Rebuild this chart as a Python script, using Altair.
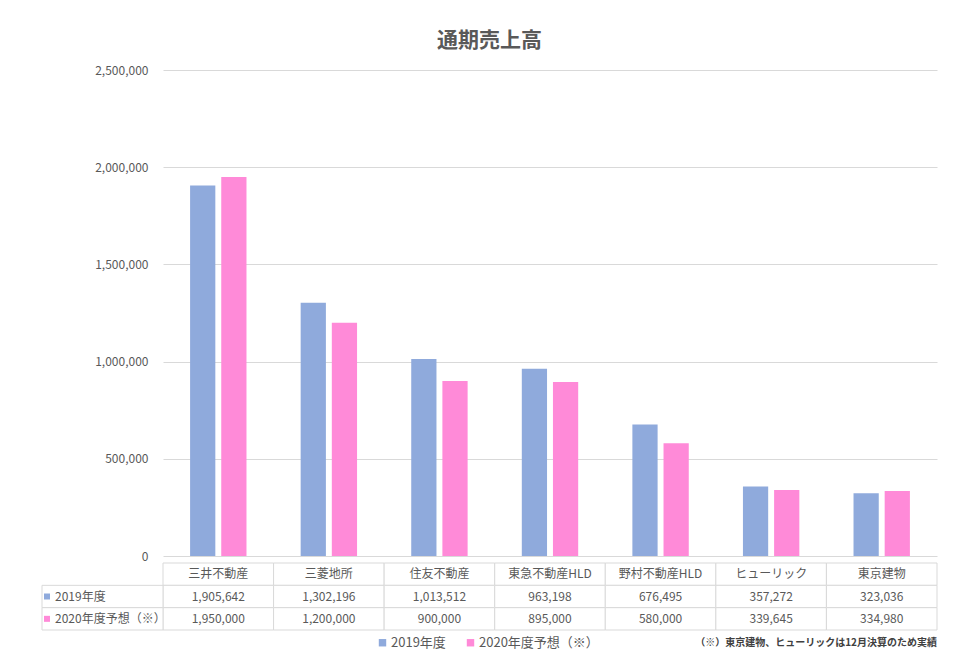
import altair as alt
import pandas as pd

# ---- data ----
categories = ["三井不動産", "三菱地所", "住友不動産", "東急不動産HLD", "野村不動産HLD", "ヒューリック", "東京建物"]
series = ["2019年度", "2020年度予想（※）"]
sales_2019 = [1905642, 1302196, 1013512, 963198, 676495, 357272, 323036]
sales_2020 = [1950000, 1200000, 900000, 895000, 580000, 339645, 334980]
y_ticks = [0, 500000, 1000000, 1500000, 2000000, 2500000]
title_text = "通期売上高"
note_text = "（※）東京建物、ヒューリックは12月決算のため実績"
header_row = "企業"

# ---- styles ----
FONT = "Noto Sans CJK JP"
colors = ["#8FAADC", "#FF8AD8"]
GRID = "#D9D9D9"
TXT = "#595959"

bar_rows = []
for c, a, b in zip(categories, sales_2019, sales_2020):
    bar_rows.append({"company": c, "series": series[0], "value": a})
    bar_rows.append({"company": c, "series": series[1], "value": b})
bars_df = pd.DataFrame(bar_rows)

table_rows_order = [header_row] + series
cells = []
for c, a, b in zip(categories, sales_2019, sales_2020):
    cells.append({"company": c, "row": header_row, "label": c})
    cells.append({"company": c, "row": series[0], "label": f"{a:,}"})
    cells.append({"company": c, "row": series[1], "label": f"{b:,}"})
cells_df = pd.DataFrame(cells)
left_df = pd.DataFrame({"row": series})
note_df = pd.DataFrame({"note": [note_text]})

x_bar = alt.X("company:N", sort=categories,
              scale=alt.Scale(domain=categories, paddingInner=0.49, paddingOuter=0.245),
              axis=None)
bars = alt.Chart(bars_df).mark_bar().encode(
    x=x_bar,
    xOffset=alt.XOffset("series:N", scale=alt.Scale(domain=series, paddingInner=0.19, paddingOuter=0)),
    y=alt.Y("value:Q", scale=alt.Scale(domain=[0, 2500000], nice=False),
            axis=alt.Axis(values=y_ticks, format=",d", title=None, domain=False, ticks=False,
                          labelPadding=15, labelFontSize=12, labelColor=TXT, labelFont=FONT,
                          gridColor=GRID, gridWidth=1)),
    color=alt.Color("series:N", scale=alt.Scale(domain=series, range=colors), legend=None),
).properties(width=774, height=486)

x_tab = alt.X("company:N", sort=categories,
              scale=alt.Scale(domain=categories, paddingInner=0, paddingOuter=0), axis=None)
y_tab = alt.Y("row:N", sort=table_rows_order,
              scale=alt.Scale(domain=table_rows_order, paddingInner=0, paddingOuter=0), axis=None)

cell_rect = alt.Chart(cells_df).mark_rect(fill="white", stroke=GRID, strokeWidth=1).encode(x=x_tab, y=y_tab)
cell_text = alt.Chart(cells_df).mark_text(font=FONT, fontSize=12, color=TXT).encode(
    x=x_tab, y=y_tab, text="label:N")

left_rect = alt.Chart(left_df).mark_rect(fill="white", stroke=GRID, strokeWidth=1).encode(
    x=alt.value(-121), x2=alt.value(0), y=y_tab)
left_sq = alt.Chart(left_df).mark_square(size=36, opacity=1).encode(
    x=alt.value(-116), y=y_tab,
    color=alt.Color("row:N", scale=alt.Scale(domain=series, range=colors),
                    legend=alt.Legend(orient="none", legendX=213, legendY=73, direction="horizontal",
                                      title=None, symbolType="square", symbolSize=55,
                                      labelFont=FONT, labelFontSize=13, labelColor=TXT,
                                      columnPadding=18, labelOffset=2, symbolOffset=0)))
left_text = alt.Chart(left_df).mark_text(align="left", font=FONT, fontSize=12, color=TXT).encode(
    x=alt.value(-108), y=y_tab, text="row:N")
note = alt.Chart(note_df).mark_text(align="right", baseline="middle", font=FONT, fontSize=10,
                                    fontWeight="bold", color="#404040").encode(
    x=alt.value(774), y=alt.value(80), text="note:N")

table = alt.layer(cell_rect, cell_text, left_rect, left_sq, left_text, note).properties(width=774, height=67)

chart = alt.vconcat(bars, table, spacing=0).resolve_scale(
    x="independent", color="independent", xOffset="independent"
).properties(
    title=alt.TitleParams(title_text, fontSize=21, fontWeight="bold", color=TXT, font=FONT,
                          anchor="middle", offset=13),
    padding={"left": 33, "top": 22, "right": 10, "bottom": 5},
).configure_view(stroke=None)

chart.save("out.html", embed_options={"renderer": "svg", "actions": False})
